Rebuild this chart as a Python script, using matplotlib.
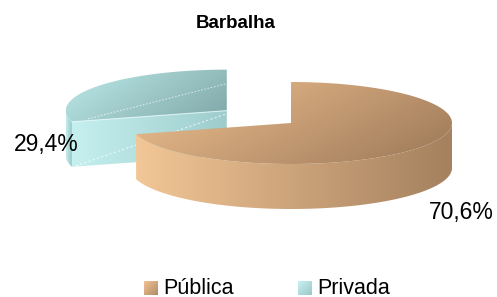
import numpy as np
import matplotlib.pyplot as plt
from matplotlib.patches import Polygon
from matplotlib.colors import LinearSegmentedColormap

plt.rcParams["font.family"] = ["Liberation Sans", "DejaVu Sans"]

title = "Barbalha"
labels = ["Pública", "Privada"]
values = [70.6, 29.4]
pct_text = ["70,6%", "29,4%"]
explode = [0.0, 0.5]

# gradient end colours (light, dark) for top face and side face of each slice
top_cols = [("#F0C291", "#9C7858"), ("#BEEBEB", "#7FA6A6")]
side_cols = [("#F2C696", "#A5815F"), ("#C4EEEE", "#92C0C0")]
legend_cols = [("#F2C496", "#B08A66"), ("#C8F0F0", "#9CC8C8")]

# pie geometry in pixel units
cx, cy = 291, 123
rx, ry = 161, 41
depth = 45

fig = plt.figure(figsize=(4.97, 2.97), dpi=100)
ax = fig.add_axes([0, 0, 1, 1])
ax.set_xlim(0, 497)
ax.set_ylim(297, 0)
ax.axis("off")


def grad_fill(poly, c1, c2, angle=0.0):
    # paint a linear gradient clipped to the polygon
    ax.add_patch(poly)
    poly.set_facecolor("none")
    poly.set_edgecolor("none")
    xy = poly.get_xy()
    x0, x1 = xy[:, 0].min(), xy[:, 0].max()
    y0, y1 = xy[:, 1].min(), xy[:, 1].max()
    gx, gy = np.meshgrid(np.linspace(0, 1, 100), np.linspace(0, 1, 100))
    a = np.deg2rad(angle)
    g = gx * np.cos(a) + gy * np.sin(a)
    g = (g - g.min()) / (g.max() - g.min())
    cmap = LinearSegmentedColormap.from_list("g", [c1, c2])
    im = ax.imshow(g, cmap=cmap, extent=(x0, x1, y1, y0), aspect="auto",
                   interpolation="bilinear", zorder=poly.get_zorder())
    im.set_clip_path(poly)


def pt(ox, oy, ang, dz=0):
    return ox + rx * np.cos(ang), oy - ry * np.sin(ang) + dz


total = sum(values)
start = 90.0
slices = []
for i, v in enumerate(values):
    sweep = 360 * v / total
    # first slice clockwise from 12 o'clock, the rest counterclockwise
    if i == 0:
        a0, a1 = start - sweep, start
    else:
        a0, a1 = start, start + sweep
    mid = np.deg2rad((a0 + a1) / 2)
    ox = cx + explode[i] * rx * np.cos(mid)
    oy = cy - explode[i] * ry * np.sin(mid)
    slices.append((a0, a1, ox, oy))

# draw back slice (Privada) first, then front slice (Pública)
for i in [1, 0]:
    a0, a1, ox, oy = slices[i]
    z = 2 if i == 1 else 4
    # outer side, only the part facing the viewer
    lo, hi = max(a0, 180), min(a1, 360)
    if i == 0:
        lo, hi = a0, min(a1, 0)
    if hi > lo:
        t = np.deg2rad(np.linspace(lo, hi, 120))
        top = np.column_stack(pt(ox, oy, t))
        bot = np.column_stack(pt(ox, oy, t, depth))
        side = Polygon(np.vstack([top, bot[::-1]]), closed=True, zorder=z)
        grad_fill(side, side_cols[i][0], side_cols[i][1], 0)
    # cut face at the end angle (visible for the back slice)
    if i == 1:
        ea = np.deg2rad(a1)
        ex, ey = pt(ox, oy, ea)
        face = Polygon([(ox, oy), (ex, ey), (ex, ey + depth), (ox, oy + depth)],
                       closed=True, zorder=z)
        grad_fill(face, "#C6F0F0", "#9ECCCC", 0)
        # faint dotted texture lines
        ax.plot([ex + 4, ox], [ey + depth - 1, oy + 3], color="white",
                lw=0.8, ls=(0, (2, 2)), alpha=0.7, zorder=z + 0.5)
    # top face
    t = np.deg2rad(np.linspace(a0, a1, 200))
    arc = np.column_stack(pt(ox, oy, t))
    topf = Polygon(np.vstack([[ox, oy], arc]), closed=True, zorder=z + 1)
    grad_fill(topf, top_cols[i][0], top_cols[i][1], 25)
    if i == 1:
        ax.plot([ex + 16, ox], [ey - 3, oy - 27], color="white",
                lw=0.8, ls=(0, (1.5, 1.5)), alpha=0.6, zorder=z + 1.5)
        ax.plot([ex, ox], [ey, oy], color="#E6FAFA", lw=0.8, alpha=0.8,
                zorder=z + 1.6)

ax.text(236, 23, title, ha="center", va="center", fontsize=13.5,
        fontweight="bold")
ax.text(46, 145, pct_text[1], ha="center", va="center", fontsize=16.5)
ax.text(461, 213, pct_text[0], ha="center", va="center", fontsize=16.5)

# legend
leg_x = [144, 298]
for i in range(2):
    sq = Polygon([(leg_x[i], 281), (leg_x[i] + 14, 281),
                  (leg_x[i] + 14, 295), (leg_x[i], 295)], closed=True, zorder=5)
    grad_fill(sq, legend_cols[i][0], legend_cols[i][1], 45)
    ax.text(leg_x[i] + 19, 288, labels[i], ha="left", va="center",
            fontsize=15.5)

fig.savefig("out.png", dpi=100)
